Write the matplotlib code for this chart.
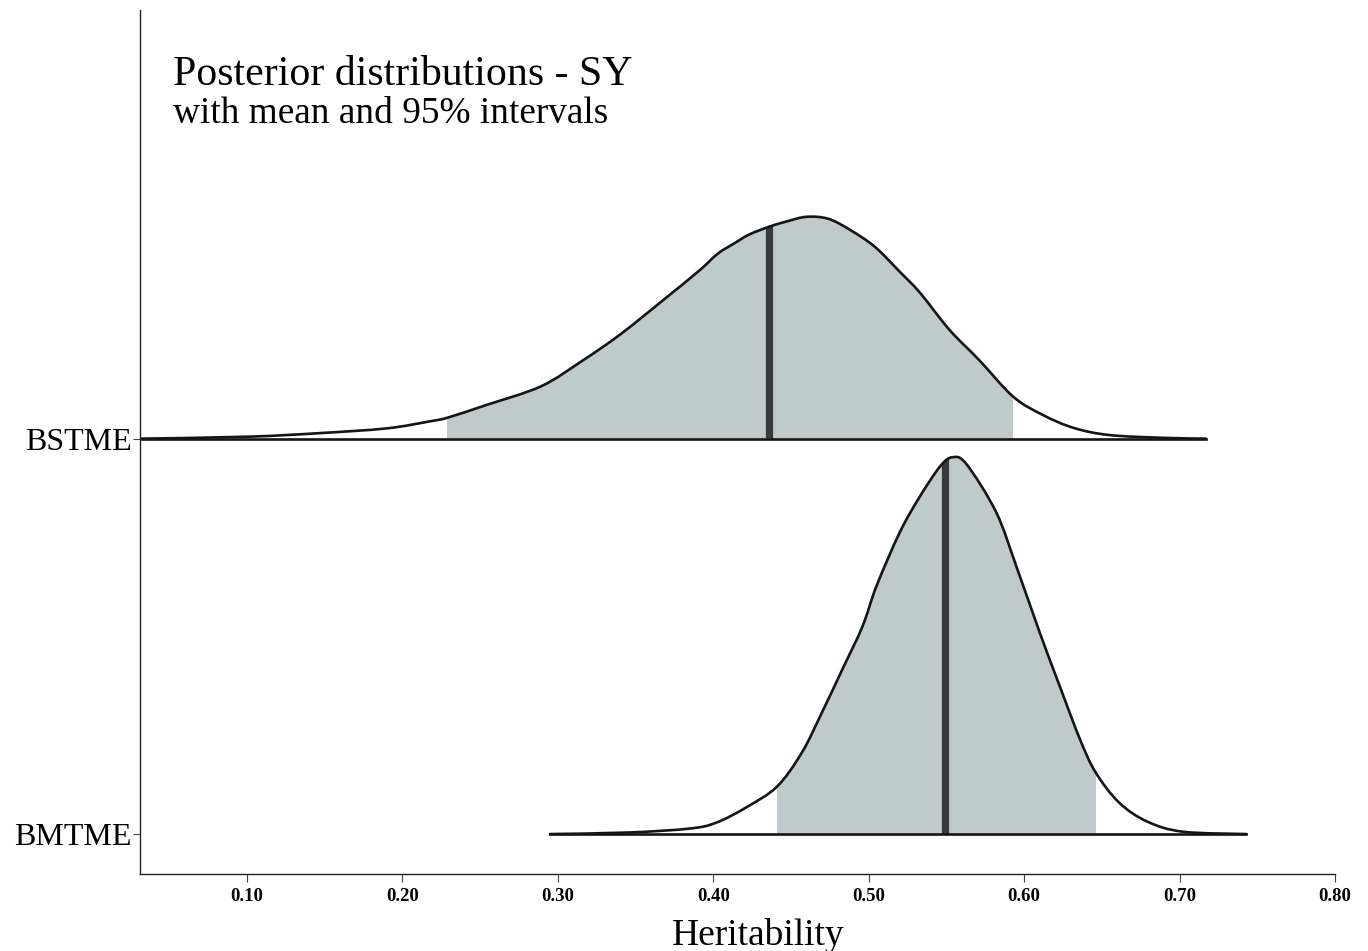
import numpy as np
import matplotlib
matplotlib.use("Agg")
import matplotlib.pyplot as plt
from matplotlib.patches import PathPatch, Rectangle
from matplotlib.path import Path

plt.rcParams['font.family'] = ['Liberation Serif', 'DejaVu Serif']

# ---------------- data ----------------
categories = ["BMTME", "BSTME"]

bstme_x = [0.0325, 0.1013, 0.147, 0.190, 0.218, 0.229, 0.254, 0.289, 0.315, 0.340,
           0.368, 0.391, 0.403, 0.414, 0.423, 0.436, 0.447, 0.460, 0.474, 0.488,
           0.504, 0.520, 0.533, 0.552, 0.571, 0.593, 0.612, 0.632, 0.655, 0.690, 0.717]
bstme_h = [0.0, 0.005, 0.014, 0.026, 0.044, 0.053, 0.085, 0.132, 0.195, 0.263,
           0.351, 0.425, 0.468, 0.495, 0.516, 0.536, 0.549, 0.561, 0.556, 0.528,
           0.485, 0.422, 0.369, 0.275, 0.199, 0.106, 0.060, 0.027, 0.009, 0.002, 0.0]

bmtme_x = [0.295, 0.346, 0.385, 0.402, 0.421, 0.441, 0.457, 0.470, 0.483, 0.496,
           0.505, 0.520, 0.533, 0.546, 0.554, 0.563, 0.582, 0.595, 0.610, 0.623,
           0.636, 0.646, 0.661, 0.679, 0.702, 0.743]
bmtme_h = [0.0, 0.004, 0.014, 0.029, 0.067, 0.120, 0.206, 0.308, 0.416, 0.525,
           0.627, 0.763, 0.854, 0.930, 0.953, 0.935, 0.814, 0.677, 0.510, 0.373,
           0.239, 0.156, 0.080, 0.032, 0.006, 0.0]

means = {"BSTME": 0.436, "BMTME": 0.549}
lower95 = {"BSTME": 0.229, "BMTME": 0.441}
upper95 = {"BSTME": 0.593, "BMTME": 0.646}

xticks = [0.10, 0.20, 0.30, 0.40, 0.50, 0.60, 0.70, 0.80]
xtick_labels = ["0.10", "0.20", "0.30", "0.40", "0.50", "0.60", "0.70", "0.80"]


def smooth_path_verts(xs, ys):
    """Catmull-Rom -> cubic Bezier vertices/codes through the given points."""
    P = np.column_stack([xs, ys])
    n = len(P)
    verts = [P[0]]
    codes = [Path.MOVETO]
    for i in range(n - 1):
        p0 = P[i - 1] if i > 0 else P[i]
        p1 = P[i]
        p2 = P[i + 1]
        p3 = P[i + 2] if i + 2 < n else P[i + 1]
        c1 = p1 + (p2 - p0) / 6.0
        c2 = p2 - (p3 - p1) / 6.0
        verts += [c1, c2, p2]
        codes += [Path.CURVE4] * 3
    return verts, codes


# ---------------- figure ----------------
W, H = 1368, 951
fig = plt.figure(figsize=(W / 100, H / 100), dpi=100)
ax = fig.add_axes([140 / W, 1 - 874 / H, (1335 - 140) / W, (874 - 10) / H])

fill_col = "#bfcbca"
mean_col = "#353b3b"
line_col = "#151515"

series = {"BSTME": (bstme_x, bstme_h), "BMTME": (bmtme_x, bmtme_h)}
for i, cat in enumerate(categories):
    base = i + 1
    xs, hs = series[cat]
    xs = np.asarray(xs, dtype=float)
    ys = base + np.asarray(hs, dtype=float)
    verts, codes = smooth_path_verts(xs, ys)
    cverts = verts + [np.array([xs[-1], base]), np.array([xs[0], base]), np.array([xs[0], base])]
    ccodes = codes + [Path.LINETO, Path.LINETO, Path.CLOSEPOLY]
    clip = PathPatch(Path(cverts, ccodes), facecolor="none", edgecolor="none",
                     transform=ax.transData)
    ax.add_patch(clip)
    shade = Rectangle((lower95[cat], base), upper95[cat] - lower95[cat], 1.2,
                      facecolor=fill_col, edgecolor="none", zorder=2)
    ax.add_patch(shade)
    shade.set_clip_path(clip)
    ml = ax.vlines(means[cat], base, base + 1.2, color=mean_col, lw=5.2, zorder=3)
    ml.set_clip_path(clip)
    outline = PathPatch(Path(verts, codes), facecolor="none", edgecolor=line_col,
                        lw=1.9, zorder=4, joinstyle="round", capstyle="round")
    ax.add_patch(outline)
    ax.plot([xs[0], xs[-1]], [base, base], color=line_col, lw=1.9, zorder=4)

ax.set_xlim(0.0312, 0.80)
ax.set_ylim(0.899, 3.084)
ax.set_xticks(xticks)
ax.set_xticklabels(xtick_labels, fontsize=13.5, fontweight="bold")
ax.set_yticks([1, 2])
ax.set_yticklabels(categories, fontsize=23)
ax.tick_params(axis="x", length=6, width=0.8, color="#444444", pad=4)
ax.tick_params(axis="y", length=5, width=0.8, color="#444444", pad=1)
for s in ["top", "right"]:
    ax.spines[s].set_visible(False)
for s in ["left", "bottom"]:
    ax.spines[s].set_linewidth(1.0)
    ax.spines[s].set_color("#222222")

fig.text(758 / W, 1 - 945 / H, "Heritability", fontsize=27,
         ha="center", va="baseline")

fig.text(173 / W, 1 - 85 / H, "Posterior distributions - SY", fontsize=30.2,
         ha="left", va="baseline")
fig.text(173 / W, 1 - 123 / H, "with mean and 95% intervals", fontsize=26.8,
         ha="left", va="baseline")

fig.savefig("out.png", dpi=100)
